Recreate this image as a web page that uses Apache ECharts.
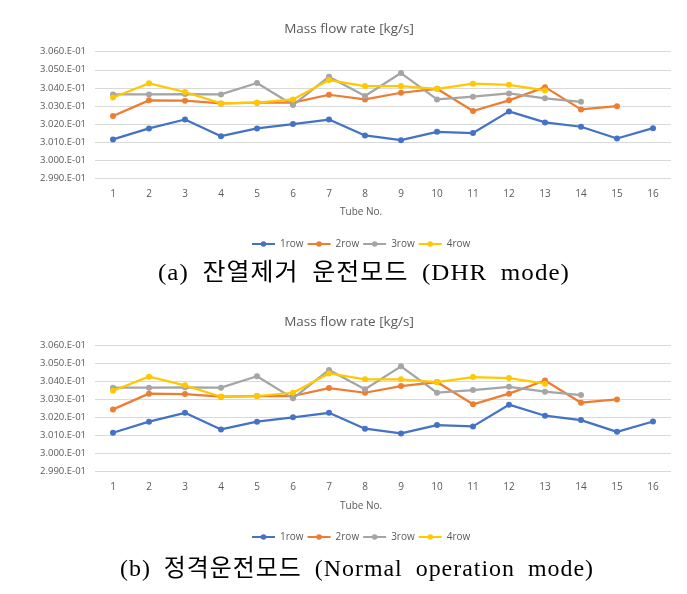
<!DOCTYPE html>
<html>
<head>
<meta charset="utf-8">
<script src="https://cdn.jsdelivr.net/npm/echarts@6/dist/echarts.min.js"></script>
<style>
html,body{margin:0;padding:0;background:#fff;}
#wrap{position:relative;width:687px;height:594px;overflow:hidden;}
#c{width:687px;height:594px;}
.cap{position:absolute;white-space:nowrap;color:#000;font-family:"Liberation Serif","DejaVu Serif","Noto Sans CJK KR",serif;
  font-size:24px;line-height:28px;letter-spacing:1px;word-spacing:6px;transform-origin:0 0;}
</style>
</head>
<body>
<div id="wrap">
<div id="c"></div>
<div class="cap" id="capA"></div>
<div class="cap" id="capB"></div>
</div>
<script>
// Tube numbers (categories)
const tubes = ['1','2','3','4','5','6','7','8','9','10','11','12','13','14','15','16'];
const seriesNames = ['1row','2row','3row','4row'];

// (a) DHR mode, mass flow rate [kg/s]
const dhrRow1 = [0.30115,0.30176,0.30225,0.30133,0.30176,0.30200,0.30225,0.30137,0.30111,0.30157,0.30150,0.30270,0.30209,0.30185,0.30120,0.30177];
const dhrRow2 = [0.30244,0.30331,0.30329,0.30314,0.30318,0.30318,0.30362,0.30336,0.30373,0.30395,0.30272,0.30331,0.30404,0.30281,0.30299];
const dhrRow3 = [0.30364,0.30364,0.30366,0.30364,0.30427,0.30305,0.30462,0.30355,0.30482,0.30336,0.30351,0.30369,0.30342,0.30323];
const dhrRow4 = [0.30347,0.30425,0.30377,0.30314,0.30318,0.30336,0.30443,0.30410,0.30410,0.30395,0.30423,0.30417,0.30386];

// (b) Normal operation mode, mass flow rate [kg/s]
const norRow1 = [0.30115,0.30176,0.30225,0.30133,0.30176,0.30200,0.30225,0.30137,0.30111,0.30157,0.30150,0.30270,0.30209,0.30185,0.30120,0.30177];
const norRow2 = [0.30244,0.30331,0.30329,0.30314,0.30318,0.30318,0.30362,0.30336,0.30373,0.30395,0.30272,0.30331,0.30404,0.30281,0.30299];
const norRow3 = [0.30364,0.30364,0.30366,0.30364,0.30427,0.30305,0.30462,0.30355,0.30482,0.30336,0.30351,0.30369,0.30342,0.30323];
const norRow4 = [0.30347,0.30425,0.30377,0.30314,0.30318,0.30336,0.30443,0.30410,0.30410,0.30395,0.30423,0.30417,0.30386];

const yMin = 0.299, yMax = 0.306, yStep = 0.001;
const chartTitle = 'Mass flow rate [kg/s]';
const xName = 'Tube No.';
const captionA = '(a) 잔열제거 운전모드 (DHR mode)';
const captionB = '(b) 정격운전모드 (Normal operation mode)';

const colors = ['#4472C4','#ED7D31','#A5A5A5','#FFC800'];
const txt = '#595959';
const font = '"Open Sans", "Liberation Sans", sans-serif';

function yFmt(v){ return (v*10).toFixed(3) + '.E-01'; }

const grids = [
  {left:95, width:576, top:51.7, height:126.6},
  {left:95, width:576, top:345, height:126.6}
];

function xAx(i){
  return {type:'category', gridIndex:i, data:tubes, boundaryGap:true,
    axisLine:{show:false}, axisTick:{show:false},
    axisLabel:{color:txt, fontSize:10, fontFamily:font, margin:11}};
}
function yAx(i){
  return {type:'value', gridIndex:i, min:yMin, max:yMax, interval:yStep,
    axisLine:{show:false}, axisTick:{show:false},
    splitLine:{lineStyle:{color:'#d9d9d9', width:1}},
    axisLabel:{color:txt, fontSize:9.5, fontFamily:font, margin:9, formatter:yFmt}};
}
function mk(name, data, idx, gi){
  return {type:'line', name:name, data:data, xAxisIndex:gi, yAxisIndex:gi,
    symbol:'circle', symbolSize:6, showSymbol:true,
    lineStyle:{width:2.25, color:colors[idx]}, itemStyle:{color:colors[idx]},
    emphasis:{disabled:true}, animation:false};
}
const setA = [dhrRow1,dhrRow2,dhrRow3,dhrRow4];
const setB = [norRow1,norRow2,norRow3,norRow4];
const series = [];
setA.forEach((d,i)=>series.push(mk(seriesNames[i], d, i, 0)));
setB.forEach((d,i)=>series.push(mk(seriesNames[i], d, i, 1)));

function legend(top){
  return {top:top, left:246, itemWidth:23, itemHeight:7, itemGap:3, data:seriesNames,
    textStyle:{color:txt, fontSize:10, fontFamily:font}};
}

const chart = echarts.init(document.getElementById('c'), null, {renderer:'canvas'});
chart.setOption({
  backgroundColor:'#fff',
  color:colors,
  animation:false,
  title:[
    {text:chartTitle, left:344, top:17, textAlign:'center',
      textStyle:{color:txt, fontSize:13.5, fontWeight:'normal', fontFamily:font}},
    {text:chartTitle, left:344, top:310, textAlign:'center',
      textStyle:{color:txt, fontSize:13.5, fontWeight:'normal', fontFamily:font}}
  ],
  legend:[legend(234), legend(527)],
  grid:grids,
  xAxis:[xAx(0), xAx(1)],
  yAxis:[yAx(0), yAx(1)],
  series:series,
  graphic:[
    {type:'text', left:340, top:207, style:{text:xName, fill:txt, fontSize:10, fontFamily:font}},
    {type:'text', left:340, top:501, style:{text:xName, fill:txt, fontSize:10, fontFamily:font}}
  ]
});

// captions as real HTML text, fitted to the reference's span
function placeCap(id, text, x0, x1, top){
  const el = document.getElementById(id);
  el.textContent = text;
  el.style.left = x0 + 'px';
  el.style.top = top + 'px';
  const w = el.getBoundingClientRect().width;
  el.style.transform = 'scaleX(' + ((x1 - x0) / w) + ')';
}
placeCap('capA', captionA, 158, 570, 258);
placeCap('capB', captionB, 120, 594, 554);
</script>
</body>
</html>
